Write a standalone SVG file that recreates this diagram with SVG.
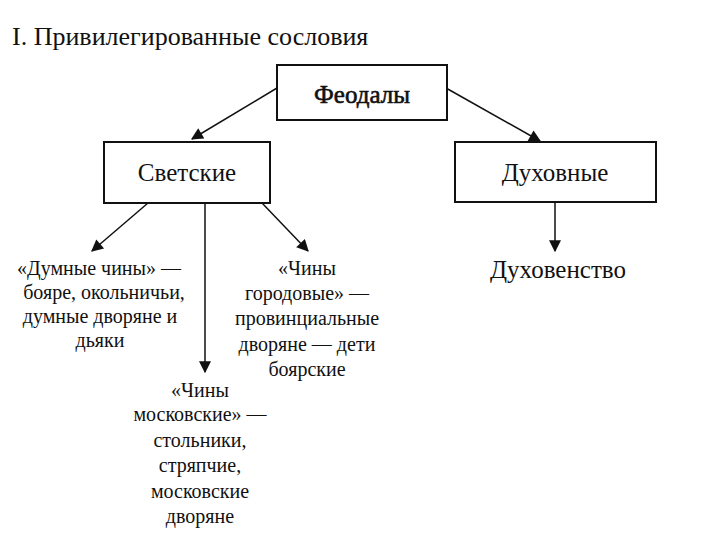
<svg xmlns="http://www.w3.org/2000/svg" width="720" height="540" viewBox="0 0 720 540">
<defs>
<marker id="ah" viewBox="0 0 10 10" refX="9" refY="5" markerWidth="14" markerHeight="12" markerUnits="userSpaceOnUse" orient="auto">
<path d="M0,0 L10,5 L0,10 z" fill="#111"/>
</marker>
<style>
.box{fill:#fff;stroke:#111;stroke-width:2}
.lbl{font-family:"Times New Roman","Liberation Serif","DejaVu Serif",serif;font-size:25px;fill:#111;text-anchor:middle}
.t{font-family:"Times New Roman","Liberation Serif","DejaVu Serif",serif;font-size:20px;fill:#111;text-anchor:middle}
.c{stroke:#111;stroke-width:1.5;fill:none;marker-end:url(#ah)}
</style>
</defs>
<rect width="720" height="540" fill="#fff"/>
<text x="12" y="45" font-family="'Times New Roman','Liberation Serif','DejaVu Serif',serif" font-size="26" fill="#111">I. Привилегированные сословия</text>
<g id="connectors">
<line class="c" x1="277" y1="88" x2="192" y2="139"/>
<line class="c" x1="446" y1="88" x2="540" y2="141"/>
<line class="c" x1="148" y1="203" x2="92" y2="251"/>
<line class="c" x1="262" y1="203" x2="308" y2="251"/>
<line class="c" x1="205" y1="203" x2="205" y2="372"/>
<line class="c" x1="555" y1="202" x2="555" y2="251"/>
</g>
<g id="feodaly">
<rect class="box" x="277" y="65" width="170" height="55"/>
<text class="lbl" x="362" y="103" stroke="#111" stroke-width="0.6">Феодалы</text>
</g>
<g id="svetskie">
<rect class="box" x="104" y="142" width="166" height="61"/>
<text class="lbl" x="187" y="181">Светские</text>
</g>
<g id="dukhovnye">
<rect class="box" x="455" y="142" width="201" height="60"/>
<text class="lbl" x="555" y="181">Духовные</text>
</g>
<g id="dumnye">
<text class="t" x="99" y="275">«Думные чины» —</text>
<text class="t" x="104" y="299">бояре, окольничьи,</text>
<text class="t" x="100" y="323">думные дворяне и</text>
<text class="t" x="100" y="347">дьяки</text>
</g>
<g id="gorodovye">
<text class="t" x="307" y="275">«Чины</text>
<text class="t" x="307" y="300">городовые» —</text>
<text class="t" x="307" y="325">провинциальные</text>
<text class="t" x="307" y="351">дворяне — дети</text>
<text class="t" x="307" y="376">боярские</text>
</g>
<g id="moskovskie">
<text class="t" x="200" y="397">«Чины</text>
<text class="t" x="200" y="421">московские» —</text>
<text class="t" x="200" y="447">стольники,</text>
<text class="t" x="200" y="472">стряпчие,</text>
<text class="t" x="200" y="498">московские</text>
<text class="t" x="200" y="523">дворяне</text>
</g>
<g id="dukhovenstvo">
<text class="lbl" x="558" y="278">Духовенство</text>
</g>
</svg>
